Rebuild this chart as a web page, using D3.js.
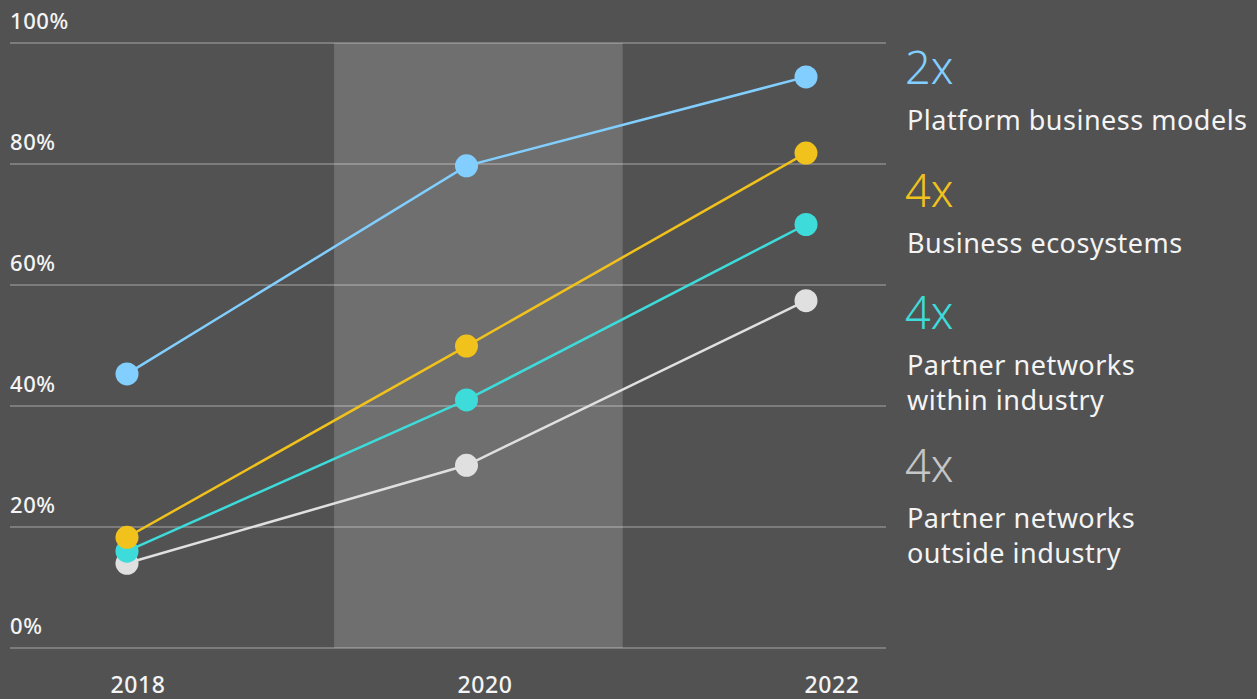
<!DOCTYPE html>
<html>
<head>
<meta charset="utf-8">
<script src="https://cdn.jsdelivr.net/npm/d3@7"></script>
<style>
  html, body { margin: 0; padding: 0; background: #525252; }
  svg { display: block; font-family: "Noto Sans", "Open Sans", sans-serif; }
</style>
</head>
<body>
<div id="chart"></div>
<script>
// data
const years = [2018, 2020, 2022]
const yTicks = [0, 20, 40, 60, 80, 100]
const seriesNames = ["Partner networks outside industry", "Partner networks within industry", "Business ecosystems", "Platform business models"]
const outsideIndustry = [14, 30.2, 57.4]
const withinIndustry = [16, 41, 70]
const ecosystems = [18.3, 49.9, 81.8]
const platform = [45.3, 79.7, 94.4]
const seriesColors = ["#e0e0e0", "#3ddbd9", "#f1c21b", "#82cfff"]

// legend, top to bottom
const legendFactors = ["2x", "4x", "4x", "4x"]
const legendLines = [["Platform business models"], ["Business ecosystems"], ["Partner networks", "within industry"], ["Partner networks", "outside industry"]]
const legendColors = ["#82cfff", "#f1c21b", "#3ddbd9", "#c6c6c6"]

const width = 1257, height = 699

const svg = d3.select("#chart")
    .append("svg")
    .attr("width", width)
    .attr("height", height)

svg.append("rect")
    .attr("width", width)
    .attr("height", height)
    .attr("fill", "#525252")

const x = d3.scaleLinear().domain([2018, 2022]).range([127, 806])
const xLabel = d3.scaleLinear().domain([2018, 2022]).range([138, 832])
const y = d3.scaleLinear().domain([0, 100]).range([648, 43])

// highlighted 2020 band
svg.append("rect")
    .attr("x", x(2019.22))
    .attr("y", y(100))
    .attr("width", x(2020.92) - x(2019.22))
    .attr("height", y(0) - y(100))
    .attr("fill", "#6f6f6f")

// gridlines + y labels
const grid = svg.append("g")
grid.selectAll("line")
    .data(yTicks)
    .enter()
    .append("line")
    .attr("x1", 10)
    .attr("x2", 886)
    .attr("y1", d => y(d))
    .attr("y2", d => y(d))
    .attr("stroke", "#ffffff")
    .attr("stroke-opacity", 0.33)
    .attr("stroke-width", 1.3)

grid.selectAll("text")
    .data(yTicks)
    .enter()
    .append("text")
    .attr("x", 10)
    .attr("y", d => y(d) - 14.5)
    .attr("fill", "#f4f4f4")
    .attr("font-size", 22)
    .attr("font-weight", 500)
    .attr("letter-spacing", 0.6)
    .text(d => d + "%")

// x labels
svg.append("g")
    .selectAll("text")
    .data(years)
    .enter()
    .append("text")
    .attr("x", d => xLabel(d))
    .attr("y", 693)
    .attr("text-anchor", "middle")
    .attr("fill", "#f4f4f4")
    .attr("font-size", 23)
    .attr("font-weight", 500)
    .attr("letter-spacing", 0.6)
    .text(d => d)

const allSeries = [outsideIndustry, withinIndustry, ecosystems, platform]
const line = d3.line()
    .x((d, i) => x(years[i]))
    .y(d => y(d))

allSeries.forEach(function (vals, k) {
    const g = svg.append("g").attr("class", "series").attr("data-name", seriesNames[k])
    g.append("path")
        .datum(vals)
        .attr("d", line)
        .attr("fill", "none")
        .attr("stroke", seriesColors[k])
        .attr("stroke-width", 2.5)
    g.selectAll("circle")
        .data(vals)
        .enter()
        .append("circle")
        .attr("cx", (d, i) => x(years[i]))
        .attr("cy", d => y(d))
        .attr("r", 11.5)
        .attr("fill", seriesColors[k])
})

// legend on the right
const legendTop = [84, 207, 329, 482]
const legend = svg.append("g")
legendFactors.forEach(function (f, i) {
    legend.append("text")
        .attr("x", 905)
        .attr("y", legendTop[i])
        .attr("fill", legendColors[i])
        .attr("font-size", 45)
        .attr("font-weight", 300)
        .text(f)
    legendLines[i].forEach(function (t, j) {
        legend.append("text")
            .attr("x", 907)
            .attr("y", legendTop[i] + 46 + j * 35)
            .attr("fill", "#f4f4f4")
            .attr("font-size", 27)
            .attr("letter-spacing", 0.5)
            .text(t)
    })
})
</script>
</body>
</html>
